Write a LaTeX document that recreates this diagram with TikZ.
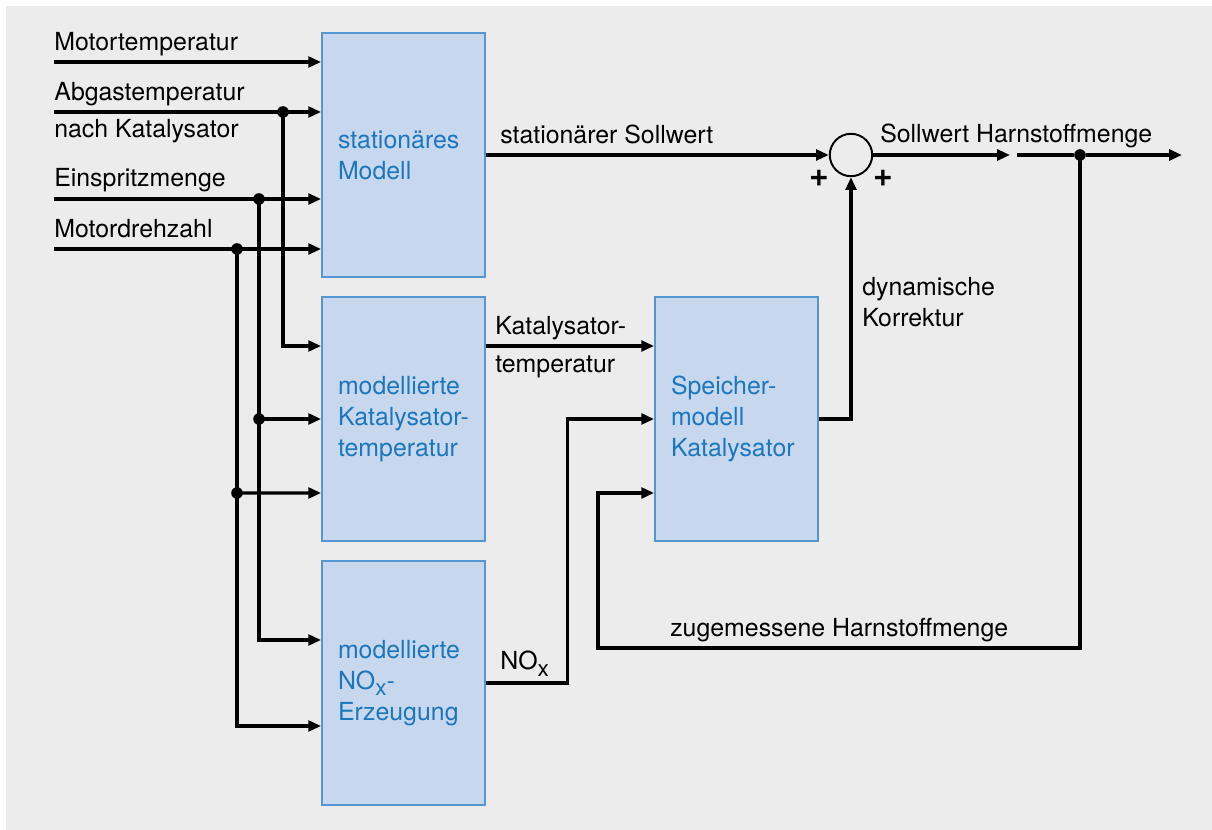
\documentclass[tikz,border=0pt]{standalone}
\usepackage{fontspec}
\setmainfont{TeX Gyre Heros}
\usetikzlibrary{arrows.meta,positioning,calc}
\definecolor{bggray}{RGB}{236,236,236}
\definecolor{boxfill}{RGB}{199,216,238}
\definecolor{boxline}{RGB}{84,150,210}
\definecolor{boxtext}{RGB}{28,118,188}
\newcommand{\subx}{\raisebox{-0.5ex}{\fontsize{16}{16}\selectfont x}}

\begin{document}
\begin{tikzpicture}[
    font=\fontsize{17.7}{22}\selectfont,
    block/.style={rectangle, draw=boxline, line width=1.3pt, fill=boxfill, text=boxtext, text width=3.275cm, inner xsep=0.4cm, inner ysep=0pt, minimum height=6.1cm, align=left},
    sig/.style={line width=2.2pt, -{Triangle[length=0.32cm,width=0.27cm]}},
    wire/.style={line width=2.2pt},
    dot/.style={circle, fill=black, inner sep=0pt, minimum size=0.29cm},
    plus/.style={font=\fontsize{24}{24}\selectfont\bfseries, inner sep=0pt}
]
    \fill[bggray] (0.15,0) rectangle (30.3,20.6);
    \useasboundingbox (0,0) rectangle (30.3,20.75);

    \node[block] (stat) at (10.0875,16.875) {station\"ares\\Modell};
    \node[block] (katT) at (10.0875,10.275) {modellierte\\Katalysator-\\temperatur};
    \node[block] (nox) at (10.0875,3.675) {modellierte\\NO\subx-\\Erzeugung};
    \node[block] (spei) at (18.4125,10.275) {Speicher-\\modell\\Katalysator};
    \node[circle, draw, line width=1.4pt, minimum size=1.06cm, inner sep=0pt] (sum) at (21.275,16.875) {};

    % inputs
    \coordinate (inMT) at (1.35,19.2);
    \coordinate (inAT) at (1.35,17.95);
    \coordinate (inEM) at (1.35,15.775);
    \coordinate (inDZ) at (1.35,14.525);
    \node[anchor=base west, inner sep=0pt] (lMT) at (1.35,19.475) {Motortemperatur};
    \node[anchor=base west, inner sep=0pt] (lAT) at (1.35,18.225) {Abgastemperatur};
    \node[anchor=base west, inner sep=0pt] (lAT2) at (1.35,17.3) {nach Katalysator};
    \node[anchor=base west, inner sep=0pt] (lEM) at (1.35,16.075) {Einspritzmenge};
    \node[anchor=base west, inner sep=0pt] (lDZ) at (1.35,14.8) {Motordrehzahl};

    \node[dot] (jAT) at (7.075,17.95) {};
    \node[dot] (jEM) at (6.475,15.775) {};
    \node[dot] (jDZ) at (5.925,14.525) {};
    \node[dot] (jEM2) at (6.475,10.275) {};
    \node[dot] (jDZ2) at (5.925,8.425) {};

    \draw[sig] (inMT) -- (stat.west |- inMT);
    \draw[sig] (inAT) -- (stat.west |- inAT);
    \draw[sig] (inEM) -- (stat.west |- inEM);
    \draw[sig] (inDZ) -- (stat.west |- inDZ);

    \draw[sig] (jAT.center) |- ([yshift=1.825cm]katT.west);
    \draw[sig] (jEM.center) |- ([yshift=1.075cm]nox.west);
    \draw[sig] (jEM2.center) -- (katT.west);
    \draw[sig] (jDZ.center) |- ([yshift=-1.075cm]nox.west);
    \draw[sig] (jDZ2.center) -- ([yshift=-1.85cm]katT.west);

    % model outputs
    \draw[sig] (stat.east) -- (sum.west);
    \node[anchor=base west, inner sep=0pt] (lSS) at (12.5,17.15) {station\"arer Sollwert};
    \draw[sig] ([yshift=1.825cm]katT.east) -- ([yshift=1.825cm]spei.west);
    \node[anchor=base west, inner sep=0pt] (lKT) at (12.375,12.375) {Katalysator-};
    \node[anchor=base west, inner sep=0pt] (lKT2) at (12.375,11.425) {temperatur};
    \draw[sig] (nox.east) -- ++(2.05,0) |- (spei.west);
    \node[anchor=base west, inner sep=0pt] (lNO) at (12.5,4.0) {NO\subx};
    \draw[sig] (spei.east) -| (sum.south);
    \node[anchor=base west, inner sep=0pt] (lDK) at (21.55,13.35) {dynamische};
    \node[anchor=base west, inner sep=0pt] (lDK2) at (21.55,12.575) {Korrektur};
    \node[plus] (pL) at (20.475,16.3) {+};
    \node[plus] (pR) at (22.075,16.3) {+};

    % setpoint
    \coordinate (sollA) at (25.25,16.875);
    \coordinate (sollB) at (25.425,16.875);
    \coordinate (sollOut) at (29.55,16.875);
    \node[dot] (split) at (27,16.875) {};
    \draw[sig] (sum.east) -- (sollA);
    \draw[wire] (sollB) -- (split);
    \draw[sig] (split) -- (sollOut);
    \node[anchor=base west, inner sep=0pt] (lSH) at (22.0,17.175) {Sollwert Harnstoffmenge};
    \draw[sig] (split.center) |- (14.95,4.55) |- ([yshift=-1.85cm]spei.west);
    \node[anchor=base west, inner sep=0pt] (lZH) at (16.75,4.825) {zugemessene Harnstoffmenge};
\end{tikzpicture}
\end{document}
